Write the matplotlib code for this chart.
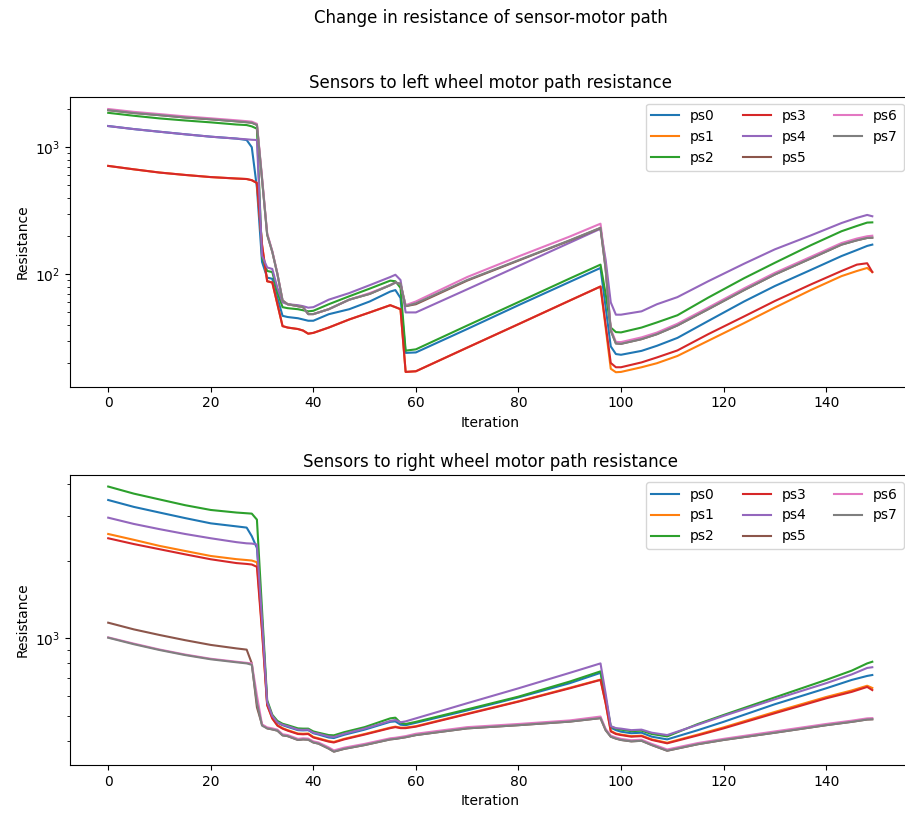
import numpy as np
import matplotlib
matplotlib.use("Agg")
import matplotlib.pyplot as plt

labels = ["ps0", "ps1", "ps2", "ps3", "ps4", "ps5", "ps6", "ps7"]

# ---------------- left wheel (top) ----------------
it_top = [0, 5, 10, 15, 20, 25, 27, 28, 29, 30, 31, 32, 33, 34, 35, 37, 38, 39, 40, 43, 47, 51,
          55, 56, 57, 58, 60, 70, 80, 90, 96, 97, 98, 99, 100, 104, 107, 111, 117, 124, 130,
          137, 143, 146, 148, 149]

left_ps0 = [1469, 1390, 1325, 1265, 1211, 1170, 1140, 1000, 480, 125, 94, 92, 65, 47, 46, 45, 44, 43, 43, 48.4, 53, 61,
            73, 75, 65, 24, 24.2, 37, 57, 87, 112, 55, 27, 23.5, 23.2, 24.9, 27.3, 31.5, 42.8, 61, 80.7,
            108, 139, 155, 167, 171]
left_ps1 = [713, 670, 632, 605, 582, 567, 562, 550, 523, 170, 88, 86, 58, 39, 38, 37, 36, 34, 34.5, 38, 44, 50,
            57, 55, 53, 17, 17.2, 26.4, 40.4, 62, 80, 38, 18, 16.9, 17.0, 18.5, 19.9, 22.7, 29.9, 41.2, 54.6,
            75, 96.6, 106, 112, 104]
left_ps2 = [1867, 1770, 1687, 1625, 1570, 1510, 1495, 1460, 1400, 135, 106, 104, 72, 55, 54, 53, 52, 51, 51.5, 58, 67, 77,
            89, 88, 78, 25, 25.6, 39.4, 60.3, 92.5, 119, 70, 38, 35, 34.8, 38, 41.7, 47.5, 65.4, 93, 123,
            169, 218, 240, 255, 256]
left_ps3 = [713, 670, 632, 605, 582, 567, 562, 550, 523, 170, 88, 86, 58, 39, 38, 37, 36, 34, 34.5, 38, 44, 50,
            57, 55, 53, 17, 17.2, 26.4, 40.4, 62, 80, 40, 20, 18.5, 18.5, 20.2, 22.1, 25.1, 33.7, 46.5, 61.5,
            83, 106, 119, 122, 104]
left_ps4 = [1469, 1390, 1325, 1265, 1211, 1170, 1155, 1145, 1140, 140, 113, 110, 78, 60, 58, 57, 56, 54.5, 55, 63, 71, 82,
            95, 99, 90, 50, 50, 76, 116, 177, 228, 130, 60, 48, 48, 51, 58, 66, 88, 121, 157,
            202, 253, 278, 293, 286]
left_ps5 = [1960, 1860, 1790, 1715, 1660, 1600, 1575, 1560, 1500, 560, 205, 150, 100, 62, 58, 56, 55, 48.5, 48.5, 53, 63, 70,
            82, 86, 84, 56, 58, 89, 128, 184, 231, 110, 36, 28.5, 28.3, 30.8, 33.7, 39.5, 53, 75, 99.5,
            133, 171, 185, 193, 194]
left_ps6 = [2000, 1900, 1825, 1750, 1690, 1630, 1605, 1590, 1530, 580, 210, 152, 101, 62, 58, 56, 55, 48.5, 48.5, 53, 63, 71,
            82, 86, 84, 57, 61, 95, 138, 198, 250, 115, 37, 29.3, 29.2, 31.8, 34.7, 40.7, 54.6, 77.3, 102.5,
            137, 176, 191, 199, 201]
left_ps7 = [1960, 1860, 1790, 1715, 1660, 1600, 1575, 1560, 1500, 560, 205, 150, 100, 62, 58, 56, 55, 48.5, 48.5, 53, 63, 70,
            82, 86, 84, 56, 59, 90, 129, 185, 232, 110, 36, 28.5, 28.3, 30.8, 33.7, 39.5, 53, 75, 99.5,
            133, 171, 185, 193, 194]

# ---------------- right wheel (bottom) ----------------
it_bot = [0, 5, 10, 15, 20, 25, 27, 28, 29, 30, 31, 32, 33, 34, 35, 37, 38, 39, 40, 41, 43, 44, 46, 50,
          55, 56, 57, 58, 60, 70, 80, 90, 96, 97, 98, 99, 100, 102, 104, 106, 109, 115, 120, 130,
          140, 145, 148, 149]

right_ps0 = [3457, 3250, 3090, 2940, 2805, 2730, 2700, 2500, 2250, 1180, 560, 498, 470, 460, 453, 440, 439, 440, 428, 423, 412, 410, 422, 442,
             474, 476, 462, 460, 470, 525, 590, 670, 735, 585, 450, 440, 434, 428, 430, 415, 405, 440, 474, 555,
             640, 690, 715, 721]
right_ps1 = [2550, 2420, 2292, 2190, 2094, 2035, 2019, 2010, 1980, 1090, 552, 490, 460, 448, 440, 427, 426, 427, 414, 409, 399, 396, 407, 425,
             450, 454, 450, 450, 456, 510, 570, 643, 692, 562, 437, 427, 423, 417, 419, 405, 393, 423, 451, 518,
             592, 628, 655, 642]
right_ps2 = [3900, 3660, 3475, 3300, 3162, 3090, 3070, 3060, 2900, 1290, 575, 505, 478, 466, 460, 447, 446, 446, 435, 430, 421, 420, 432, 452,
             489, 492, 470, 465, 474, 530, 594, 680, 745, 590, 455, 446, 442, 436, 438, 425, 416, 465, 504, 590,
             690, 750, 800, 812]
right_ps3 = [2454, 2330, 2225, 2125, 2033, 1965, 1950, 1940, 1900, 1060, 550, 488, 458, 446, 438, 425, 424, 425, 412, 407, 397, 394, 405, 423,
             448, 452, 448, 448, 454, 508, 568, 640, 690, 560, 435, 425, 421, 415, 417, 403, 391, 420, 447, 512,
             585, 620, 648, 630]
right_ps4 = [2951, 2790, 2663, 2550, 2454, 2370, 2345, 2340, 2320, 1180, 565, 500, 472, 462, 456, 442, 441, 442, 430, 426, 416, 414, 426, 446,
             478, 482, 472, 476, 489, 560, 640, 735, 800, 610, 456, 448, 446, 440, 442, 430, 421, 462, 500, 580,
             670, 725, 768, 773]
right_ps5 = [1152, 1085, 1032, 985, 944, 915, 905, 800, 540, 462, 447, 443, 438, 420, 417, 403, 405, 404, 394, 390, 373, 363, 372, 385,
             405, 407, 410, 413, 421, 447, 460, 475, 490, 440, 415, 408, 403, 398, 400, 385, 366, 388, 403, 430,
             460, 474, 484, 485]
right_ps6 = [1010, 955, 906, 866, 834, 812, 804, 800, 600, 463, 451, 447, 442, 424, 421, 407, 409, 408, 398, 394, 377, 367, 376, 389,
             409, 411, 414, 417, 426, 452, 465, 480, 497, 445, 419, 412, 407, 402, 404, 389, 370, 392, 407, 435,
             465, 479, 489, 490]
right_ps7 = [1007, 950, 902, 862, 830, 808, 800, 790, 560, 458, 447, 443, 438, 420, 417, 403, 405, 404, 394, 390, 373, 363, 372, 385,
             405, 407, 410, 413, 421, 447, 460, 475, 490, 440, 415, 408, 403, 398, 400, 385, 366, 388, 403, 430,
             460, 474, 484, 485]

left_series = [left_ps0, left_ps1, left_ps2, left_ps3, left_ps4, left_ps5, left_ps6, left_ps7]
right_series = [right_ps0, right_ps1, right_ps2, right_ps3, right_ps4, right_ps5, right_ps6, right_ps7]

W, H = 905, 814
fig = plt.figure(figsize=(W / 100, H / 100), dpi=100)

ax_l, ax_r = 70, 910.5
ax1 = fig.add_axes([ax_l / W, 1 - 386.7 / H, (ax_r - ax_l) / W, 290 / H])
ax2 = fig.add_axes([ax_l / W, 1 - 765 / H, (ax_r - ax_l) / W, 290 / H])

for ax, xs, series, title, ylim in [
    (ax1, it_top, left_series, "Sensors to left wheel motor path resistance", (13.0, 2501)),
    (ax2, it_bot, right_series, "Sensors to right wheel motor path resistance", (322, 4325)),
]:
    for lab, ys in zip(labels, series):
        ax.plot(xs, ys, label=lab)
    ax.set_yscale("log")
    ax.set_ylim(*ylim)
    ax.set_xlim(-7.45, 156.45)
    ax.set_title(title, fontsize=12)
    ax.set_xlabel("Iteration")
    ax.set_ylabel("Resistance")
    ax.legend(ncol=3, loc="upper right")

fig.suptitle("Change in resistance of sensor-motor path", x=490.5 / W, y=1 - 18 / H,
             va="center", fontsize=12)

fig.savefig("out.png", dpi=100)
